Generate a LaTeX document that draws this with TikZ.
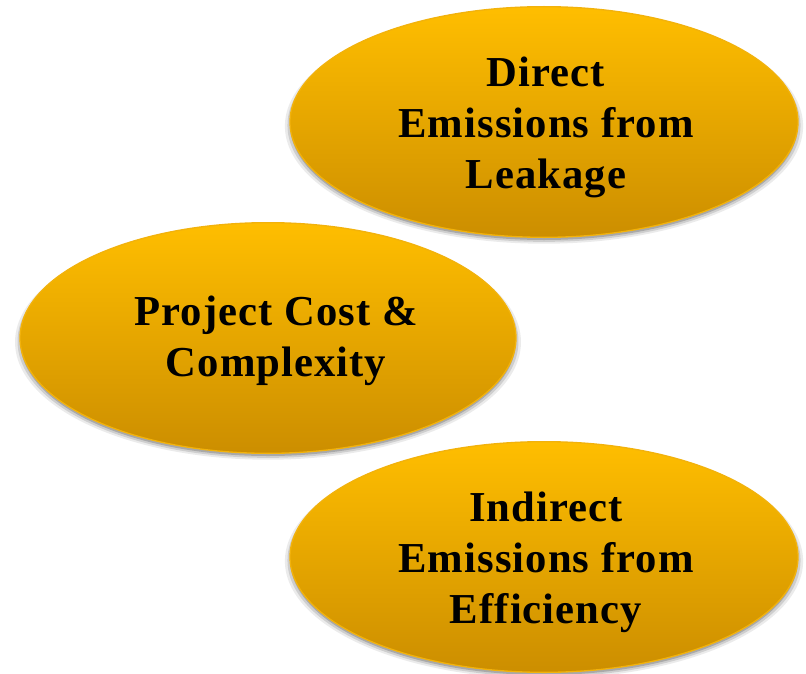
\documentclass[tikz,border=0pt]{standalone}
\usepackage{fontspec}
\setmainfont{Liberation Serif}[LetterSpace=2.5]
\usetikzlibrary{shapes.geometric,shadows}
\definecolor{goldtop}{RGB}{255,190,0}
\definecolor{goldbot}{RGB}{204,142,0}
\definecolor{goldline}{RGB}{242,178,12}
\begin{document}
\begin{tikzpicture}[x=0.75pt,y=-0.75pt,
  blob/.style={ellipse, inner sep=0pt, minimum width=381pt, minimum height=173pt,
    top color=goldtop, bottom color=goldbot, draw=goldline, line width=1pt,
    drop shadow={shadow xshift=0pt, shadow yshift=-3pt, shadow scale=1.02, opacity=0.08, fill=black},
    drop shadow={shadow xshift=0pt, shadow yshift=-2.5pt, shadow scale=1.01, opacity=0.12, fill=black},
    drop shadow={shadow xshift=0pt, shadow yshift=-2pt, shadow scale=1.0, opacity=0.18, fill=black}},
  lbl/.style={align=center, inner sep=0pt, font=\fontsize{32}{38.25}\selectfont\bfseries}]
\useasboundingbox (0,0) rectangle (806,674);
\node[blob] (e1) at (544,122) {};
\node[blob, minimum width=372pt] (e2) at (268,338) {};
\node[blob] (e3) at (544,557) {};
\node[lbl] (t1) at (546,127) {Direct\\Emissions from\\Leakage};
\node[lbl] (t2) at (276,341) {Project Cost \&\\Complexity};
\node[lbl] (t3) at (546,562) {Indirect\\Emissions from\\Efficiency};
\end{tikzpicture}
\end{document}
